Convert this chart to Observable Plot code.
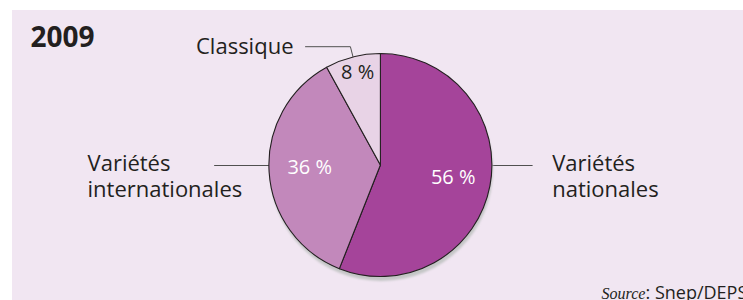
<!DOCTYPE html>
<html><head><meta charset="utf-8">
<script src="https://cdn.jsdelivr.net/npm/d3@7"></script>
<script src="https://cdn.jsdelivr.net/npm/@observablehq/plot@0.6"></script>
<style>
body{margin:0;background:#fff;overflow:hidden;}
#chart{padding:10px 0 0 12px;width:731px;}
</style></head><body><div id="chart"></div>
<script>
// ---- data ----
const title = "2009";
const categories = ["Variétés nationales", "Variétés internationales", "Classique"];
const categoryLabels = ["Variétés\nnationales", "Variétés\ninternationales", "Classique"];
const shares = [56, 36, 8];
const shareLabels = ["56 %", "36 %", "8 %"];
const sourcePrefix = "Source";
const sourceText = ": Snep/DEPS";

// ---- styles / layout ----
const colors = ["#a5449a", "#c288bb", "#e8d3e6"];
const shareLabelFill = ["#ffffff", "#ffffff", "#231f20"];
const shareLabelRadius = [0.66, 0.64, 0.84];
const leaderAngleDeg = [90, 270, null];   // null -> slice mid-angle
const leaderElbow = [1, 1, 1.1];
const leaderEnd = [1.357, -1.492, -0.676];
const labelX = [1.536, -2.631, -0.784];
const labelAnchor = ["start", "start", "end"];
const W = 731, H = 290, R = 111.5, CX = 368.4, CY = 155;

const rows = categories.map((c, i) => ({cat: c, label: categoryLabels[i], share: shares[i], shareLabel: shareLabels[i], i}));
const arcs = d3.pie().sort(null).value(d => d.share)(rows);
rows.forEach((d, i) => {
  d.start = arcs[i].startAngle; d.end = arcs[i].endAngle; d.mid = (d.start + d.end) / 2;
  d.lx = Math.sin(d.mid) * shareLabelRadius[i];
  d.ly = Math.cos(d.mid) * shareLabelRadius[i];
  const th = leaderAngleDeg[i] == null ? d.mid : leaderAngleDeg[i] * Math.PI / 180;
  const p0 = {x: Math.sin(th), y: Math.cos(th)};
  const p1 = {x: Math.sin(th) * leaderElbow[i], y: Math.cos(th) * leaderElbow[i]};
  const p2 = {x: leaderEnd[i], y: p1.y};
  d.leader = [p0, p1, p2].map(p => ({...p, cat: d.cat}));
  d.tx = labelX[i]; d.ty = p1.y;
  d.anchor = labelAnchor[i];
  d.multi = d.label.includes("\n");
});
const leaderPts = rows.flatMap(d => d.leader);

function pieMark(index, scales) {
  const cx = scales.x(0), cy = scales.y(0), r = scales.x(1) - scales.x(0);
  const g = d3.create("svg:g");
  const f = g.append("defs").append("filter").attr("id", "pieShadow").attr("x", "-10%").attr("y", "-10%").attr("width", "120%").attr("height", "120%");
  f.append("feGaussianBlur").attr("stdDeviation", 1.3);
  g.append("circle").attr("cx", cx + 1).attr("cy", cy + 4.5).attr("r", r)
    .attr("fill", "#c4c6c6").attr("filter", "url(#pieShadow)");
  const arc = d3.arc().innerRadius(0).outerRadius(r);
  g.append("g").attr("transform", `translate(${cx},${cy})`)
    .selectAll("path").data(rows).join("path")
    .attr("d", d => arc({startAngle: d.start, endAngle: d.end}))
    .attr("fill", d => colors[d.i])
    .attr("stroke", "#231f20").attr("stroke-width", 1.1).attr("stroke-linejoin", "round");
  return g.node();
}

const labelMarks = [];
for (const anchor of ["start", "end"]) {
  for (const multi of [true, false]) {
    const sub = rows.filter(d => d.anchor === anchor && d.multi === multi);
    if (!sub.length) continue;
    labelMarks.push(Plot.text(sub, {
      x: "tx", y: "ty", text: "label", textAnchor: anchor,
      lineAnchor: multi ? "top" : "middle", dy: multi ? -12 : -1,
      lineHeight: 1.15, fontSize: 22, fill: "#231f20"
    }));
  }
}

const chart = Plot.plot({
  width: W, height: H,
  margin: 0,
  x: {domain: [-CX / R, (W - CX) / R], axis: null},
  y: {domain: [-(H - CY) / R, CY / R], axis: null},
  style: {fontFamily: "'Open Sans', sans-serif", background: "#f1e6f2", color: "#231f20", overflow: "hidden"},
  marks: [
    Plot.line(leaderPts, {x: "x", y: "y", z: "cat", stroke: "#505050", strokeWidth: 1}),
    pieMark,
    Plot.text(rows, {x: "lx", y: "ly", text: "shareLabel", fill: d => shareLabelFill[d.i], fontSize: 20, dy: -2, lineAnchor: "middle"}),
    ...labelMarks,
    Plot.text([title], {frameAnchor: "top-left", text: d => d, dx: 18, dy: 17, lineAnchor: "top", textAnchor: "start", fontSize: 28, fontWeight: "bold", fill: "#231f20"}),
    Plot.text([sourcePrefix], {frameAnchor: "bottom-left", text: d => d, dx: 589, dy: -2, lineAnchor: "bottom", textAnchor: "start", fontSize: 16, fontStyle: "italic", fontFamily: "'Liberation Serif', serif", fill: "#231f20"}),
    Plot.text([sourceText], {frameAnchor: "bottom-left", text: d => d, dx: 633, dy: -2, lineAnchor: "bottom", textAnchor: "start", fontSize: 18, fill: "#231f20"})
  ]
});
document.getElementById("chart").append(chart);
</script></body></html>
